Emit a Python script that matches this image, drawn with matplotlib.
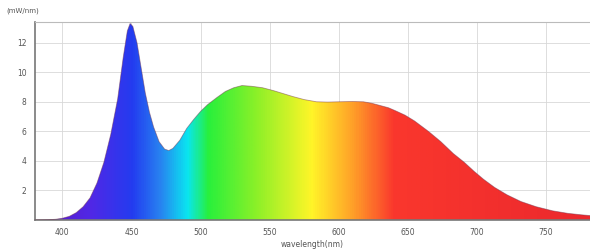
import numpy as np
import matplotlib
matplotlib.use("Agg")
import matplotlib.pyplot as plt
from matplotlib.colors import LinearSegmentedColormap
from matplotlib.patches import Polygon

wavelength = [380, 390, 395, 400, 405, 410, 415, 420, 425, 430, 435, 440, 444, 447, 449, 451,
              454, 457, 460, 463, 466, 470, 474, 477, 480, 485, 490, 495, 500, 505, 512, 518,
              524, 530, 537, 545, 553, 560, 567, 575, 584, 592, 600, 610, 618, 624, 630, 636,
              641, 648, 655, 665, 674, 683, 691, 698, 705, 713, 722, 732, 743, 755, 766, 776, 782]
intensity = [0.0, 0.02, 0.05, 0.12, 0.25, 0.5, 0.9, 1.5, 2.5, 3.9, 5.8, 8.2, 11.0, 12.8, 13.3, 13.1,
             12.0, 10.3, 8.6, 7.3, 6.3, 5.3, 4.8, 4.7, 4.85, 5.4, 6.2, 6.8, 7.35, 7.8, 8.3, 8.7,
             8.95, 9.1, 9.05, 8.95, 8.75, 8.55, 8.35, 8.15, 8.0, 7.98, 8.0, 8.02, 8.0, 7.9, 7.75, 7.6,
             7.4, 7.1, 6.7, 6.0, 5.3, 4.5, 3.9, 3.3, 2.75, 2.2, 1.7, 1.25, 0.9, 0.62, 0.45, 0.35, 0.3]
xticks = [400, 450, 500, 550, 600, 650, 700, 750]
yticks = [2, 4, 6, 8, 10, 12]
ylabel_text = "(mW/nm)"
xlabel_text = "wavelength(nm)"

spec_nm = [380, 420, 450, 470, 490, 505, 540, 580, 610, 640, 782]
spec_rgb = [(95, 25, 200), (80, 40, 230), (35, 60, 240), (40, 130, 240), (10, 230, 240),
            (40, 240, 60), (140, 240, 40), (255, 245, 40), (255, 160, 40), (250, 55, 45),
            (235, 40, 45)]

xmin, xmax = 380, 782
ymax = 13.4

fig = plt.figure(figsize=(5.9, 2.5), dpi=100)
ax = fig.add_axes([0.059, 0.12, 0.941, 0.792])

pos = [(n - xmin) / (xmax - xmin) for n in spec_nm]
cmap = LinearSegmentedColormap.from_list(
    "spec", list(zip(pos, [tuple(c / 255 for c in rgb) for rgb in spec_rgb])))

xs = np.linspace(xmin, xmax, 800)
grad = np.vstack([xs, xs])
im = ax.imshow(grad, extent=[xmin, xmax, 0, ymax], aspect="auto", cmap=cmap,
               vmin=xmin, vmax=xmax, origin="lower", zorder=2)
verts = [(xmin, 0)] + list(zip(wavelength, intensity)) + [(xmax, 0)]
poly = Polygon(verts, closed=True, facecolor="none", edgecolor="none")
ax.add_patch(poly)
im.set_clip_path(poly)
ax.plot(wavelength, intensity, color=(0.45, 0.2, 0.3), lw=0.6, alpha=0.5, zorder=3)

ax.set_xlim(xmin, xmax)
ax.set_ylim(0, ymax)
ax.set_xticks(xticks)
ax.set_yticks(yticks)
ax.grid(True, color="#d8d8d8", lw=0.6, zorder=0)
ax.set_axisbelow(True)
ax.tick_params(labelsize=5.5, colors="#555555", length=0, pad=6)
for s in ["left", "bottom"]:
    ax.spines[s].set_color("#777777")
    ax.spines[s].set_linewidth(1.2)
ax.spines["top"].set_color("#bbbbbb")
ax.spines["top"].set_linewidth(0.8)
ax.spines["right"].set_visible(False)
ax.set_xlabel(xlabel_text, fontsize=5.5, color="#555555", labelpad=2)
fig.text(0.01, 0.955, ylabel_text, fontsize=5, color="#555555", va="center", ha="left")

fig.savefig("out.png", dpi=100)
